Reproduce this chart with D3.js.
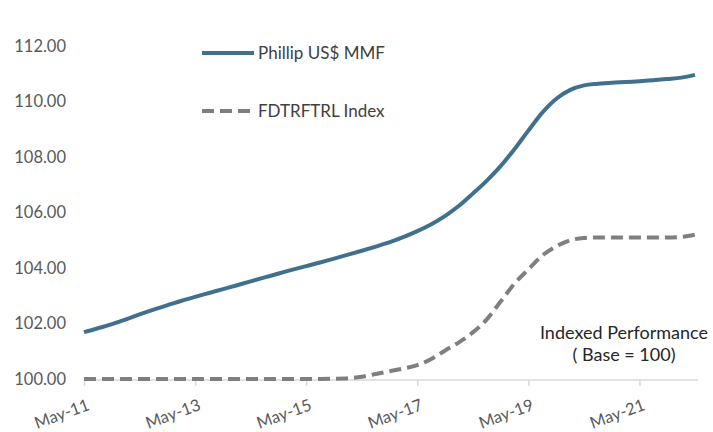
<!DOCTYPE html>
<html>
<head>
<meta charset="utf-8">
<script src="https://cdn.jsdelivr.net/npm/d3@7"></script>
<style>
  body { margin: 0; background: #fff; }
  text { font-family: Lato, "Open Sans", sans-serif; }
</style>
</head>
<body>
<script>
// data (quarterly)
var dates = ["2011-05","2011-08","2011-11","2012-02","2012-05","2012-08","2012-11","2013-02",
  "2013-05","2013-08","2013-11","2014-02","2014-05","2014-08","2014-11","2015-02",
  "2015-05","2015-08","2015-11","2016-02","2016-05","2016-08","2016-11","2017-02",
  "2017-05","2017-08","2017-11","2018-02","2018-05","2018-08","2018-11","2019-02",
  "2019-05","2019-08","2019-11","2020-02","2020-05","2020-08","2020-11","2021-02",
  "2021-05","2021-08","2021-11","2022-02","2022-05"];
var mmf = [101.69,101.83,101.98,102.15,102.33,102.50,102.66,102.82,
  102.96,103.10,103.24,103.38,103.52,103.66,103.80,103.94,
  104.07,104.20,104.34,104.48,104.62,104.77,104.93,105.12,
  105.33,105.58,105.88,106.25,106.68,107.15,107.68,108.30,
  108.95,109.60,110.10,110.42,110.58,110.64,110.68,110.70,
  110.73,110.77,110.81,110.86,110.96];
var fdtr = [100,100,100,100,100,100,100,100,
  100,100,100,100,100,100,100,100,
  100,100,100.01,100.03,100.08,100.18,100.28,100.38,
  100.50,100.72,101.03,101.33,101.68,102.15,102.80,103.45,
  103.95,104.45,104.78,105.00,105.08,105.10,105.10,105.10,
  105.10,105.10,105.10,105.12,105.20];
var yTicks = [100,102,104,106,108,110,112];
var xTicks = ["2011-05","2013-05","2015-05","2017-05","2019-05","2021-05"];
var seriesNames = ["Phillip US$ MMF","FDTRFTRL Index"];
var noteLines = ["Indexed Performance","( Base = 100)"];

var svgWidth = 713;
var svgHeight = 432;
var parse = d3.timeParse("%Y-%m");
var fmtX = d3.timeFormat("%b-%y");

var svg = d3.select("body").append("svg")
  .attr("width", svgWidth)
  .attr("height", svgHeight);

// scales
var x = d3.scaleTime()
  .domain([parse(dates[0]), parse(dates[dates.length - 1])])
  .range([84, 695]);
var y = d3.scaleLinear()
  .domain([100, 112])
  .range([379, 46]);

// x axis
var xAxis = svg.append("g")
  .attr("transform", "translate(0,380)")
  .call(d3.axisBottom(x)
    .tickValues(xTicks.map(parse))
    .tickSize(6)
    .tickFormat(fmtX));
xAxis.select(".domain").attr("stroke", "#d9d9d9").attr("stroke-width", 1.5)
  .attr("d", "M84,0H698");
xAxis.selectAll(".tick line").attr("stroke", "#d9d9d9").attr("stroke-width", 1.5);
xAxis.selectAll(".tick text")
  .attr("fill", "#595959")
  .style("font-size", "16.5px")
  .attr("text-anchor", "end")
  .attr("y", 0)
  .attr("dy", "0.35em")
  .attr("transform", "translate(4,24) rotate(-20)");

// y axis (labels only)
var yAxis = svg.append("g")
  .attr("transform", "translate(66,0)")
  .call(d3.axisLeft(y).tickValues(yTicks).tickSize(0).tickPadding(0).tickFormat(d3.format(".2f")));
yAxis.select(".domain").remove();
yAxis.selectAll(".tick text").attr("fill", "#595959").style("font-size", "16.5px");

// lines
var line = d3.line()
  .x(function(d, i) { return x(parse(dates[i])); })
  .y(function(d) { return y(d); })
  .curve(d3.curveMonotoneX);

svg.append("path").datum(fdtr)
  .attr("d", line)
  .attr("fill", "none")
  .attr("stroke", "#7f7f7f")
  .attr("stroke-width", 4)
  .attr("stroke-dasharray", "12,6");

svg.append("path").datum(mmf)
  .attr("d", line)
  .attr("fill", "none")
  .attr("stroke", "#41708e")
  .attr("stroke-width", 4);

// legend
var legend = svg.append("g");
seriesNames.forEach(function(name, i) {
  var ly = 53 + i * 58;
  legend.append("line")
    .attr("x1", 202).attr("x2", 254)
    .attr("y1", ly).attr("y2", ly)
    .attr("stroke", i === 0 ? "#41708e" : "#7f7f7f")
    .attr("stroke-width", 4)
    .attr("stroke-dasharray", i === 0 ? null : "12,6");
  legend.append("text")
    .attr("x", 258).attr("y", ly)
    .attr("dy", "0.35em")
    .attr("fill", "#404040")
    .style("font-size", "17px")
    .text(name);
});

// note
svg.append("g").selectAll("text")
  .data(noteLines)
  .join("text")
  .attr("x", 624)
  .attr("y", function(d, i) { return 333 + i * 22; })
  .attr("dy", "0.35em")
  .attr("text-anchor", "middle")
  .attr("fill", "#262626")
  .style("font-size", "18px")
  .text(function(d) { return d; });
</script>
</body>
</html>
